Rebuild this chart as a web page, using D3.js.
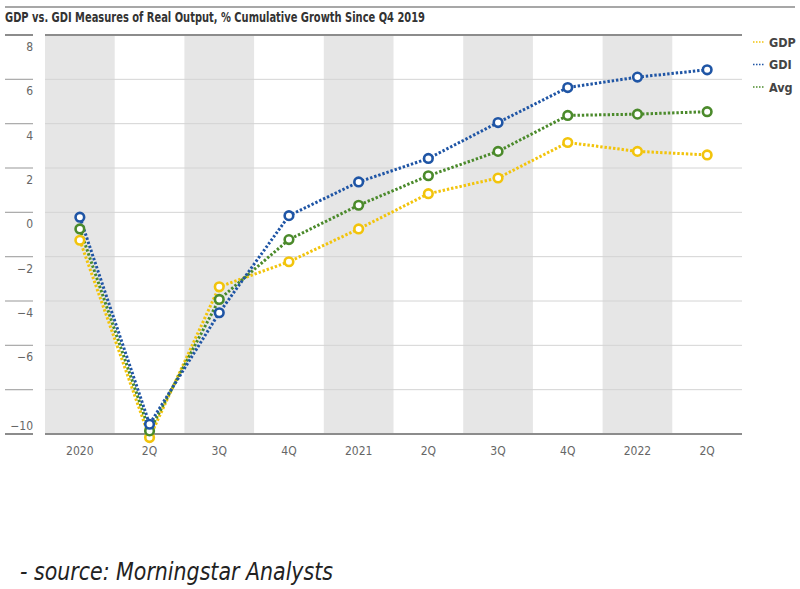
<!DOCTYPE html>
<html>
<head>
<meta charset="utf-8">
<script src="https://cdn.jsdelivr.net/npm/d3@7"></script>
<style>
  html, body { margin: 0; padding: 0; background: #fff; }
  svg { display: block; }
  .narrow { font-family: "Liberation Sans Narrow", "Arial Narrow", "DejaVu Sans Condensed", sans-serif; }
</style>
</head>
<body>
<svg id="chart" width="800" height="589"></svg>
<script>
const categories = ["2020", "2Q", "3Q", "4Q", "2021", "2Q", "3Q", "4Q", "2022", "2Q"];
const gdp = [-1.26, -10.16, -3.36, -2.23, -0.75, 0.84, 1.55, 3.15, 2.75, 2.59];
const gdi = [-0.22, -9.56, -4.53, -0.15, 1.37, 2.43, 4.05, 5.63, 6.10, 6.43];
const avg = [-0.75, -9.86, -3.93, -1.23, 0.32, 1.65, 2.75, 4.37, 4.43, 4.54];
const yTicks = [8, 6, 4, 2, 0, -2, -4, -6, -8, -10];
const yTickLabels = ["8", "6", "4", "2", "0", "\u22122", "\u22124", "\u22126", "", "\u221210"];
const seriesNames = ["GDP", "GDI", "Avg"];
const seriesColors = ["#f2c40c", "#1f55a5", "#4b8a2b"];

const title = "GDP vs. GDI Measures of Real Output, % Cumulative Growth Since Q4 2019";
const source = "- source: Morningstar Analysts";

const svg = d3.select("#chart");
const plot = { left: 45, right: 742, top: 35, bottom: 434 };

const x = d3.scaleBand().domain(d3.range(categories.length)).range([plot.left, plot.right]).padding(0);
const y = d3.scaleLinear().domain([-10, 8]).range([plot.bottom, plot.top]);

// top rule and title
svg.append("line").attr("x1", 5).attr("x2", 795).attr("y1", 7).attr("y2", 7)
  .attr("stroke", "#8a8a8a").attr("stroke-width", 1.5);
svg.append("text").attr("class", "narrow").attr("x", 5).attr("y", 22)
  .attr("font-size", 13.5).attr("font-weight", "bold").attr("fill", "#333")
  .attr("textLength", 420).attr("lengthAdjust", "spacingAndGlyphs").text(title);

// alternating bands
svg.append("g").selectAll("rect")
  .data(categories.map((c, i) => i).filter(i => i % 2 === 0))
  .join("rect")
  .attr("x", i => x(i)).attr("width", x.bandwidth())
  .attr("y", plot.top).attr("height", plot.bottom - plot.top)
  .attr("fill", "#e6e6e6");

// gridlines
const grid = svg.append("g");
yTicks.forEach(t => {
  const edge = (t === 8 || t === -10);
  grid.append("line")
    .attr("x1", plot.left).attr("x2", plot.right)
    .attr("y1", y(t)).attr("y2", y(t))
    .attr("stroke", edge ? "#8c8c8c" : "#d4d4d4")
    .attr("stroke-width", edge ? 2 : 1);
  grid.append("line")
    .attr("x1", 5).attr("x2", 33)
    .attr("y1", y(t)).attr("y2", y(t))
    .attr("stroke", edge ? "#8c8c8c" : "#a8a8a8")
    .attr("stroke-width", edge ? 2 : 1.2);
});

// y labels (drawn below their gridline, -10 lifted above the bottom line)
const yl = svg.append("g").attr("class", "narrow").attr("font-size", 12).attr("fill", "#666").attr("text-anchor", "end");
yTicks.forEach((t, i) => {
  const yy = t === -10 ? y(t) - 4 : y(t) + 16;
  yl.append("text").attr("x", 33).attr("y", yy).text(yTickLabels[i]);
});

// x axis labels
const xa = d3.axisBottom(x).tickFormat(i => categories[i]).tickSize(0).tickPadding(12);
const xg = svg.append("g").attr("transform", `translate(0,${plot.bottom})`).call(xa);
xg.select(".domain").remove();
xg.selectAll("text").attr("class", "narrow").attr("font-size", 12).attr("fill", "#666");

// series
const allSeries = [gdp, gdi, avg];
const line = d3.line().x((d, i) => x(i) + x.bandwidth() / 2).y(d => y(d));
const order = [0, 2, 1];
order.forEach(s => {
  svg.append("path").datum(allSeries[s])
    .attr("d", line).attr("fill", "none")
    .attr("stroke", seriesColors[s]).attr("stroke-width", 3)
    .attr("stroke-dasharray", "2.4,1.9");
});
order.forEach(s => {
  svg.append("g").selectAll("circle").data(allSeries[s]).join("circle")
    .attr("cx", (d, i) => x(i) + x.bandwidth() / 2).attr("cy", d => y(d))
    .attr("r", 4.3).attr("fill", "#fff")
    .attr("stroke", seriesColors[s]).attr("stroke-width", 2.6);
});

// legend
const lg = svg.append("g").attr("class", "narrow");
seriesNames.forEach((n, i) => {
  const yy = 42 + i * 22.5;
  lg.append("line").attr("x1", 753).attr("x2", 764).attr("y1", yy).attr("y2", yy)
    .attr("stroke", seriesColors[i]).attr("stroke-width", 1.5).attr("stroke-dasharray", "1.5,1.5");
  lg.append("text").attr("x", 769).attr("y", yy + 4.5).attr("font-size", 12.5)
    .attr("font-weight", "bold").attr("fill", "#444").text(n);
});

// source
svg.append("text").attr("class", "narrow").attr("x", 20).attr("y", 580)
  .attr("font-size", 24).attr("font-style", "italic").attr("fill", "#222")
  .attr("textLength", 313).attr("lengthAdjust", "spacingAndGlyphs").text(source);
</script>
</body>
</html>
